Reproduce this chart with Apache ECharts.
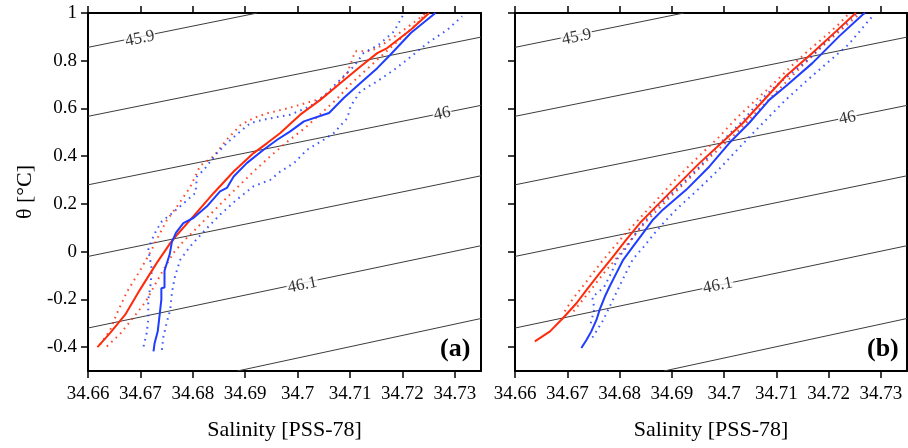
<!DOCTYPE html>
<html><head><meta charset="utf-8">
<script src="https://cdn.jsdelivr.net/npm/echarts@6/dist/echarts.min.js"></script>
<style>html,body{margin:0;padding:0;background:#fff}#c{width:908px;height:448px}</style>
</head><body><div id="c"></div>
<script>
// ---- tick labels ----
const xTicks = [34.66, 34.67, 34.68, 34.69, 34.70, 34.71, 34.72, 34.73];
const yTicks = [-0.4, -0.2, 0, 0.2, 0.4, 0.6, 0.8, 1];
const xRange = [34.66, 34.735];
const yRange = [-0.5, 1];

// ---- isopycnal contours [S, theta] ----
const sig459 = [[34.66, 0.856], [34.6923, 1.0]];
const sig4595 = [[34.66, 0.567], [34.735, 0.899]];
const sig460 = [[34.66, 0.280], [34.735, 0.613]];
const sig4605 = [[34.66, -0.020], [34.735, 0.318]];
const sig461 = [[34.66, -0.320], [34.735, 0.025]];
const sig4615 = [[34.6885, -0.5], [34.735, -0.280]];
const contourLabels = ['45.9', '46', '46.1'];
const labelPosA = [[34.6699, 0.893], [34.7276, 0.578], [34.7009, -0.140]];
const labelPosB = [[34.6718, 0.899], [34.7236, 0.560], [34.6988, -0.142]];

// ---- panel (a) ----
const redMeanA = [[34.6618,-0.400],[34.6642,-0.341],[34.6671,-0.264],[34.6699,-0.160],[34.6731,-0.048],[34.6757,0.036],[34.6770,0.071],[34.6801,0.148],[34.6840,0.246],[34.6878,0.336],[34.6916,0.413],[34.6942,0.455],[34.6967,0.497],[34.7005,0.574],[34.7044,0.637],[34.7082,0.707],[34.7120,0.776],[34.7152,0.832],[34.7171,0.853],[34.7216,0.930],[34.7251,1.0]];
const blueMeanA = [[34.6725,-0.418],[34.6727,-0.385],[34.6733,-0.335],[34.6737,-0.260],[34.6740,-0.200],[34.6740,-0.153],[34.6746,-0.150],[34.6746,-0.080],[34.6756,-0.010],[34.6760,0.040],[34.6768,0.080],[34.6782,0.120],[34.6801,0.141],[34.6827,0.190],[34.6852,0.253],[34.6865,0.267],[34.6878,0.315],[34.6903,0.371],[34.6935,0.427],[34.6961,0.469],[34.6986,0.504],[34.7012,0.546],[34.7060,0.581],[34.7088,0.644],[34.7120,0.707],[34.7152,0.769],[34.7177,0.825],[34.7216,0.916],[34.7263,1.0]];
const redLoA = [[34.6623,-0.390],[34.6642,-0.330],[34.6655,-0.260],[34.6674,-0.170],[34.6699,-0.080],[34.6722,0.010],[34.6738,0.080],[34.6750,0.130],[34.6770,0.190],[34.6795,0.270],[34.6814,0.360],[34.6840,0.400],[34.6865,0.470],[34.6891,0.530],[34.6916,0.560],[34.6942,0.580],[34.6980,0.600],[34.7043,0.640],[34.7068,0.680],[34.7095,0.750],[34.7110,0.840],[34.7133,0.840],[34.7150,0.850],[34.7184,0.900],[34.7222,0.960],[34.7245,1.0]];
const redHiA = [[34.6636,-0.397],[34.6661,-0.345],[34.6685,-0.280],[34.6710,-0.210],[34.6730,-0.130],[34.6748,-0.060],[34.6765,0.000],[34.6785,0.050],[34.6808,0.100],[34.6835,0.160],[34.6862,0.220],[34.6890,0.280],[34.6918,0.340],[34.6948,0.400],[34.6980,0.460],[34.7015,0.520],[34.7045,0.580],[34.7075,0.640],[34.7100,0.700],[34.7130,0.760],[34.7160,0.820],[34.7195,0.890],[34.7230,0.960],[34.7245,1.0]];
const blueLoA = [[34.6706,-0.397],[34.6712,-0.341],[34.6715,-0.285],[34.6715,-0.201],[34.6719,-0.146],[34.6722,-0.076],[34.6715,0.008],[34.6722,0.050],[34.6731,0.092],[34.6741,0.127],[34.6757,0.155],[34.6776,0.190],[34.6805,0.246],[34.6808,0.315],[34.6821,0.343],[34.6846,0.413],[34.6865,0.455],[34.6887,0.497],[34.6910,0.539],[34.6935,0.553],[34.6967,0.567],[34.6986,0.574],[34.7024,0.609],[34.7053,0.658],[34.7075,0.707],[34.7107,0.776],[34.7126,0.832],[34.7155,0.867],[34.7184,0.923],[34.7200,0.986],[34.7203,1.0]];
const blueHiA = [[34.6741,-0.411],[34.6744,-0.355],[34.6750,-0.299],[34.6757,-0.243],[34.6760,-0.174],[34.6766,-0.104],[34.6776,-0.034],[34.6795,0.022],[34.6821,0.085],[34.6852,0.155],[34.6884,0.218],[34.6916,0.274],[34.6948,0.301],[34.6967,0.336],[34.6993,0.371],[34.7018,0.427],[34.7050,0.469],[34.7069,0.497],[34.7095,0.560],[34.7101,0.609],[34.7120,0.672],[34.7152,0.714],[34.7184,0.762],[34.7209,0.804],[34.7248,0.874],[34.7286,0.930],[34.7314,0.986]];

// ---- panel (b) ----
const redMeanB = [[34.6638,-0.376],[34.6667,-0.334],[34.6692,-0.278],[34.6718,-0.215],[34.6737,-0.160],[34.6762,-0.090],[34.6788,-0.020],[34.6813,0.050],[34.6839,0.120],[34.6864,0.176],[34.6883,0.218],[34.6902,0.260],[34.6953,0.371],[34.6998,0.462],[34.7036,0.539],[34.7071,0.623],[34.7118,0.735],[34.7169,0.832],[34.7214,0.923],[34.7252,1.0]];
const blueMeanB = [[34.6727,-0.404],[34.6737,-0.369],[34.6746,-0.334],[34.6756,-0.285],[34.6762,-0.243],[34.6772,-0.188],[34.6781,-0.146],[34.6794,-0.090],[34.6807,-0.034],[34.6826,0.022],[34.6845,0.078],[34.6864,0.134],[34.6883,0.176],[34.6928,0.260],[34.6972,0.357],[34.7010,0.455],[34.7048,0.539],[34.7087,0.637],[34.7118,0.693],[34.7169,0.790],[34.7220,0.902],[34.7265,0.993],[34.7270,1.0]];
const redLoB = [[34.6695,-0.250],[34.6710,-0.200],[34.6728,-0.150],[34.6763,-0.050],[34.6805,0.060],[34.6864,0.200],[34.6910,0.310],[34.6952,0.400],[34.6990,0.480],[34.7024,0.560],[34.7058,0.630],[34.7088,0.690],[34.7130,0.780],[34.7160,0.840],[34.7192,0.900],[34.7218,0.950],[34.7240,1.0]];
const redHiB = [[34.6712,-0.250],[34.6745,-0.160],[34.6770,-0.090],[34.6797,-0.020],[34.6822,0.050],[34.6848,0.120],[34.6893,0.220],[34.6935,0.310],[34.6975,0.400],[34.7020,0.490],[34.7060,0.580],[34.7105,0.680],[34.7150,0.780],[34.7193,0.870],[34.7240,0.960],[34.7262,1.0]];
const blueLoB = [[34.6745,-0.300],[34.6752,-0.240],[34.6748,-0.190],[34.6770,-0.150],[34.6784,-0.090],[34.6796,-0.030],[34.6814,0.020],[34.6832,0.080],[34.6850,0.130],[34.6868,0.180],[34.6908,0.260],[34.6955,0.360],[34.6995,0.460],[34.7032,0.540],[34.7072,0.640],[34.7102,0.700],[34.7153,0.790],[34.7205,0.900],[34.7255,1.0]];
const blueHiB = [[34.6748,-0.360],[34.6768,-0.290],[34.6790,-0.190],[34.6812,-0.090],[34.6826,-0.030],[34.6846,0.020],[34.6868,0.080],[34.6888,0.130],[34.6910,0.180],[34.6950,0.260],[34.6988,0.340],[34.7048,0.480],[34.7115,0.630],[34.7160,0.720],[34.7239,0.870],[34.7285,0.990]];

const RED = '#ff2a0a', BLUE = '#1f3dff';
const FONT = '"Liberation Serif","Times New Roman",serif';
const fmt = v => String(Math.round(v * 1000) / 1000);

function xAxes(gi) {
  return [{
    type: 'value', gridIndex: gi, position: 'bottom', min: xRange[0], max: xRange[1],
    axisLine: {show: true, onZero: false, lineStyle: {color: '#000', width: 2}},
    axisTick: {show: true, inside: false, length: 7, customValues: xTicks, lineStyle: {color: '#000', width: 1.5}},
    axisLabel: {show: true, customValues: xTicks, formatter: fmt, margin: 14, color: '#000', fontFamily: FONT, fontSize: 19},
    splitLine: {show: false},
    name: 'Salinity [PSS-78]', nameLocation: 'middle', nameGap: 48,
    nameTextStyle: {fontFamily: FONT, fontSize: 22, color: '#000'}
  }, {
    type: 'value', gridIndex: gi, position: 'top', min: xRange[0], max: xRange[1],
    axisLine: {show: true, onZero: false, lineStyle: {color: '#000', width: 2}},
    axisTick: {show: true, inside: false, length: 7, customValues: xTicks, lineStyle: {color: '#000', width: 1.5}},
    axisLabel: {show: false}, splitLine: {show: false}
  }];
}
function yAxes(gi, showLabels) {
  return [{
    type: 'value', gridIndex: gi, position: 'left', min: yRange[0], max: yRange[1],
    axisLine: {show: true, onZero: false, lineStyle: {color: '#000', width: 2}},
    axisTick: {show: true, inside: false, length: 7, customValues: yTicks, lineStyle: {color: '#000', width: 1.5}},
    axisLabel: {show: showLabels, customValues: yTicks, formatter: fmt, margin: 11, color: '#000', fontFamily: FONT, fontSize: 19},
    splitLine: {show: false},
    name: showLabels ? 'θ [°C]' : '', nameLocation: 'middle', nameGap: 52, nameRotate: 90,
    nameTextStyle: {fontFamily: FONT, fontSize: 22, color: '#000'}
  }, {
    type: 'value', gridIndex: gi, position: 'right', min: yRange[0], max: yRange[1],
    axisLine: {show: true, onZero: false, lineStyle: {color: '#000', width: 2}},
    axisTick: {show: false}, axisLabel: {show: false}, splitLine: {show: false}
  }];
}

function lineSeries(data, color, dotted, gi) {
  return {
    type: 'line', xAxisIndex: gi * 2, yAxisIndex: gi * 2, data: data,
    symbol: 'none', silent: true, animation: false, clip: true,
    lineStyle: dotted ? {color: color, width: 2, type: [1.6, 4.5], opacity: 0.85}
                      : {color: color, width: 2}
  };
}
function contourSeries(gi) {
  return [sig459, sig4595, sig460, sig4605, sig461, sig4615].map(d => ({
    type: 'line', xAxisIndex: gi * 2, yAxisIndex: gi * 2, data: d, symbol: 'none',
    silent: true, animation: false, clip: true, z: 1,
    lineStyle: {color: '#3c3c3c', width: 1}
  }));
}
function labelSeries(gi, pos) {
  return {
    type: 'scatter', xAxisIndex: gi * 2, yAxisIndex: gi * 2, symbolSize: 0, silent: true,
    animation: false, z: 3,
    data: pos.map((p, i) => ({value: p, name: contourLabels[i]})),
    label: {show: true, position: 'inside', formatter: p => p.name, rotate: 11.5,
      fontFamily: FONT, fontSize: 17, color: '#000', backgroundColor: '#fff', padding: [0, 1]}
  };
}

const series = [
  ...contourSeries(0), ...contourSeries(1),
  labelSeries(0, labelPosA), labelSeries(1, labelPosB),
  lineSeries(redLoA, RED, true, 0), lineSeries(redHiA, RED, true, 0),
  lineSeries(blueLoA, BLUE, true, 0), lineSeries(blueHiA, BLUE, true, 0),
  lineSeries(redMeanA, RED, false, 0), lineSeries(blueMeanA, BLUE, false, 0),
  lineSeries(redLoB, RED, true, 1), lineSeries(redHiB, RED, true, 1),
  lineSeries(blueLoB, BLUE, true, 1), lineSeries(blueHiB, BLUE, true, 1),
  lineSeries(redMeanB, RED, false, 1), lineSeries(blueMeanB, BLUE, false, 1)
];

const chart = echarts.init(document.getElementById('c'), null, {renderer: 'canvas'});
chart.setOption({
  backgroundColor: '#fff',
  animation: false,
  grid: [
    {left: 88, top: 13, width: 393, height: 358},
    {left: 515, top: 13, width: 392, height: 358}
  ],
  xAxis: [...xAxes(0), ...xAxes(1)],
  yAxis: [...yAxes(0, true), ...yAxes(1, false)],
  graphic: [
    {type: 'text', left: 440, top: 336, style: {text: '(a)', font: 'bold 26px ' + FONT, fill: '#000'}},
    {type: 'text', left: 867, top: 336, style: {text: '(b)', font: 'bold 26px ' + FONT, fill: '#000'}}
  ],
  series: series
});
</script></body></html>
